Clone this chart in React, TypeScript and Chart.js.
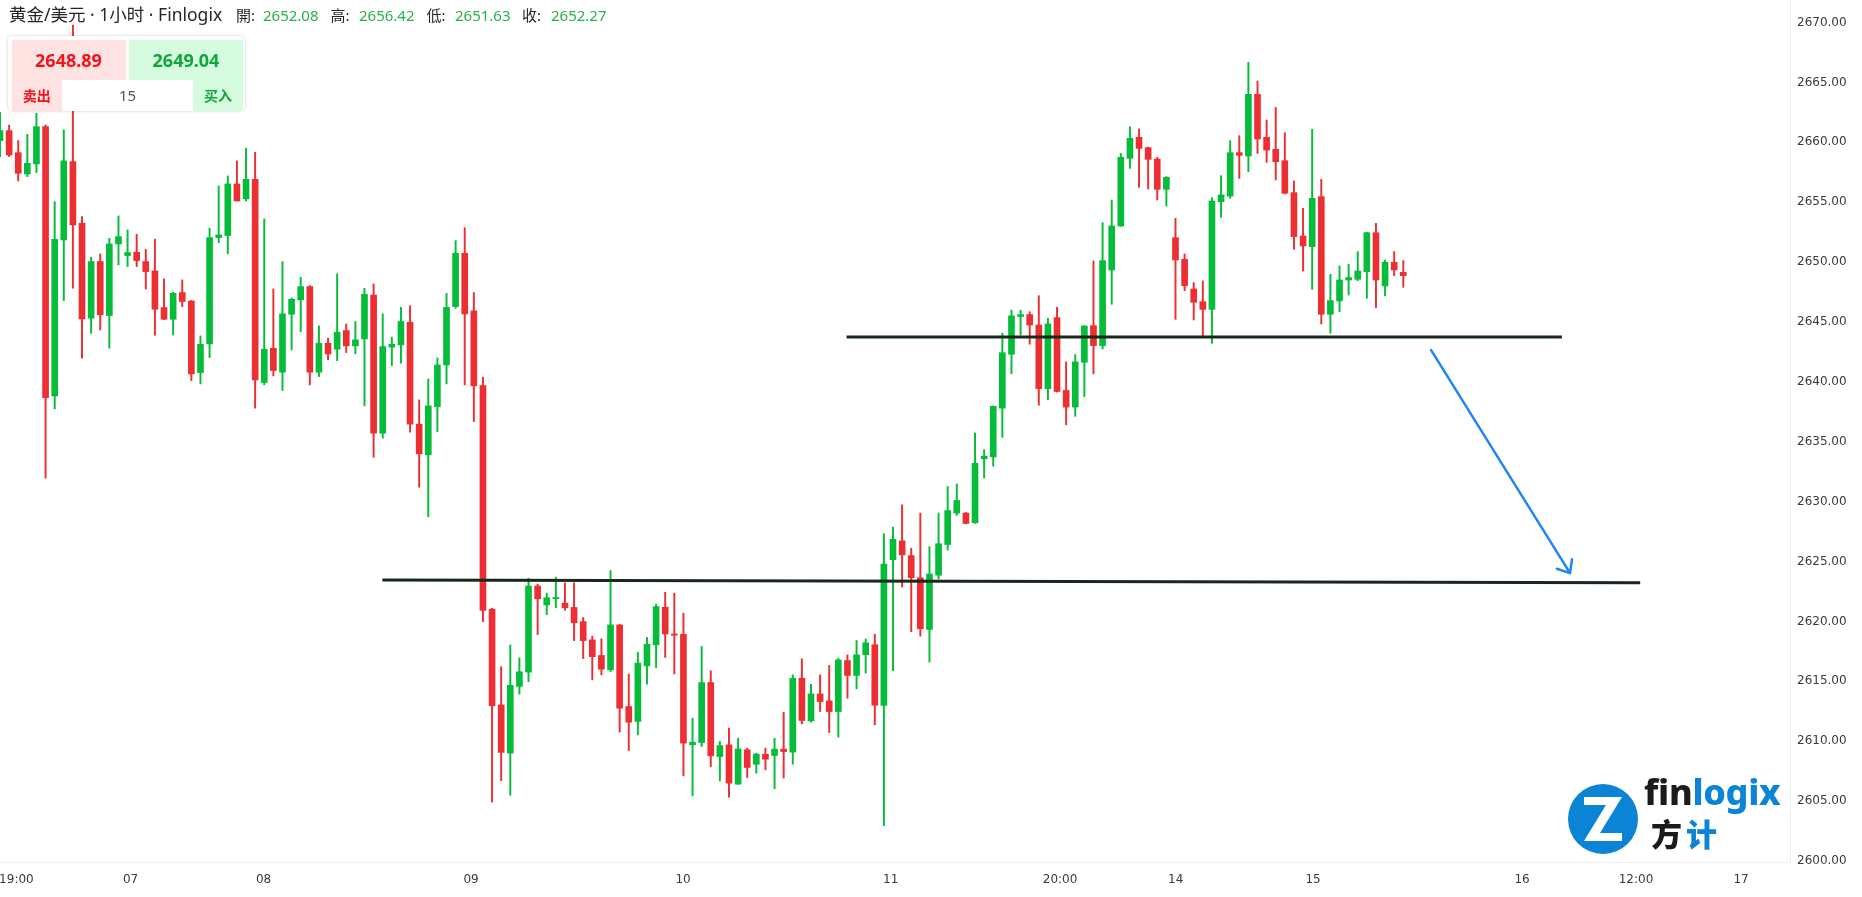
import React, { useEffect, useRef } from "react";
import { Chart, registerables } from "chart.js";

Chart.register(...registerables);

// ---- candle data (hourly, XAU/USD) ----
const opens = [
  2660.15, 2660.98, 2659.14, 2657.36, 2658.2, 2661.31, 2638.83, 2651.85, 2658.39, 2653.25,
  2645.32, 2650.05, 2645.54, 2651.52, 2650.55, 2650.82, 2650.05, 2649.27, 2646.21, 2645.23,
  2647.46, 2646.76, 2640.78, 2643.17, 2652.05, 2652.22, 2656.53, 2655.28, 2656.92, 2639.95,
  2642.81, 2640.81, 2645.65, 2646.85, 2647.96, 2640.81, 2643.23, 2642.73, 2644.29, 2643.01,
  2643.59, 2647.26, 2635.72, 2642.9, 2643.09, 2644.98, 2636.47, 2633.91, 2637.94, 2641.42,
  2646.29, 2650.74, 2645.93, 2639.69, 2621.02, 2613.03, 2609.01, 2614.58, 2615.77, 2622.96,
  2621.38, 2621.9, 2621.53, 2621.17, 2619.98, 2618.46, 2617.16, 2615.96, 2619.71, 2612.9,
  2611.65, 2616.29, 2618.05, 2621.19, 2618.96, 2618.93, 2609.7, 2609.89, 2614.9, 2608.72,
  2609.7, 2606.42, 2609.28, 2608.08, 2608.92, 2608.81, 2609.34, 2609.09, 2615.26, 2611.7,
  2613.95, 2613.37, 2612.48, 2616.74, 2615.49, 2617.23, 2618.06, 2613.0, 2625.16, 2626.73,
  2625.5, 2623.65, 2619.33, 2623.86, 2626.42, 2629.05, 2629.05, 2628.24, 2633.58, 2633.74,
  2637.81, 2642.31, 2645.46, 2645.62, 2644.75, 2639.44, 2645.37, 2639.29, 2637.9, 2641.64,
  2644.7, 2643.03, 2649.35, 2653.02, 2658.67, 2660.42, 2659.56, 2658.61, 2656.08, 2652.04,
  2650.24, 2647.76, 2646.7, 2646.06, 2655.05, 2655.52, 2659.14, 2658.86, 2664.01, 2660.42,
  2659.42, 2658.47, 2655.8, 2652.18, 2651.29, 2655.47, 2645.65, 2646.76, 2648.51, 2648.57,
  2649.21, 2652.46, 2648.01, 2649.99, 2649.15,
];
const highs = [
  2662.5, 2661.45, 2660.15, 2660.67, 2662.43, 2661.45, 2655.05, 2661.04, 2669.8, 2653.8,
  2650.41, 2650.69, 2651.99, 2653.86, 2652.69, 2652.33, 2651.07, 2651.91, 2648.6, 2647.5,
  2648.52, 2646.8, 2643.84, 2652.83, 2656.36, 2657.2, 2658.45, 2659.5, 2659.17, 2653.61,
  2647.76, 2650.05, 2647.0, 2648.74, 2648.04, 2644.68, 2643.65, 2649.02, 2644.84, 2645.04,
  2647.82, 2648.18, 2645.68, 2643.73, 2646.23, 2646.37, 2638.5, 2640.25, 2642.01, 2647.4,
  2651.8, 2652.88, 2647.46, 2640.4, 2621.1, 2616.22, 2618.04, 2616.97, 2623.61, 2623.11,
  2622.36, 2623.7, 2623.23, 2623.23, 2620.33, 2618.78, 2618.55, 2624.25, 2619.75, 2615.6,
  2617.43, 2618.66, 2621.44, 2622.44, 2622.36, 2620.69, 2611.92, 2617.91, 2615.88, 2609.98,
  2611.09, 2610.25, 2609.42, 2609.0, 2609.42, 2610.25, 2612.42, 2615.54, 2616.88, 2614.76,
  2615.54, 2616.32, 2616.93, 2617.21, 2618.41, 2618.53, 2618.93, 2627.32, 2627.87, 2629.73,
  2626.12, 2629.05, 2626.24, 2629.05, 2631.27, 2631.48, 2629.1, 2635.74, 2634.35, 2638.0,
  2644.07, 2645.99, 2645.99, 2645.86, 2647.2, 2645.31, 2646.23, 2641.67, 2642.28, 2644.7,
  2650.1, 2653.3, 2655.19, 2659.08, 2661.31, 2661.12, 2659.6, 2658.75, 2657.14, 2653.66,
  2650.68, 2648.29, 2648.43, 2655.38, 2657.22, 2660.14, 2660.56, 2666.68, 2665.12, 2661.87,
  2662.92, 2660.81, 2656.78, 2654.49, 2661.09, 2656.91, 2648.98, 2649.68, 2649.82, 2650.88,
  2652.5, 2653.24, 2650.18, 2650.88, 2650.13,
];
const lows = [
  2658.8, 2658.81, 2656.78, 2657.14, 2657.47, 2631.96, 2637.75, 2646.79, 2647.82, 2641.98,
  2644.06, 2644.34, 2642.81, 2649.77, 2649.63, 2649.63, 2647.76, 2643.9, 2645.2, 2643.92,
  2646.29, 2640.11, 2639.83, 2642.03, 2651.63, 2650.69, 2655.1, 2655.11, 2637.8, 2639.75,
  2640.5, 2639.28, 2642.67, 2644.2, 2639.75, 2640.45, 2641.84, 2641.78, 2642.45, 2642.34,
  2638.0, 2633.71, 2635.3, 2641.36, 2641.56, 2635.8, 2631.21, 2628.74, 2635.86, 2639.83,
  2646.15, 2639.75, 2636.69, 2619.98, 2604.92, 2606.71, 2605.49, 2613.93, 2614.97, 2618.9,
  2620.57, 2621.14, 2620.93, 2618.4, 2616.91, 2615.12, 2615.54, 2615.82, 2610.76, 2609.22,
  2610.53, 2614.76, 2616.15, 2617.0, 2615.62, 2607.11, 2605.44, 2609.56, 2607.89, 2606.69,
  2605.33, 2606.4, 2606.97, 2607.33, 2607.61, 2606.03, 2606.92, 2608.08, 2611.45, 2611.59,
  2612.48, 2610.73, 2610.34, 2613.59, 2614.37, 2615.69, 2611.37, 2602.94, 2615.9, 2622.88,
  2619.14, 2618.77, 2616.61, 2623.55, 2625.96, 2628.86, 2628.15, 2628.2, 2631.98, 2632.97,
  2635.37, 2640.68, 2643.92, 2643.15, 2638.06, 2638.52, 2639.15, 2636.42, 2637.13, 2638.77,
  2640.67, 2642.75, 2646.48, 2653.0, 2657.83, 2656.25, 2656.11, 2655.19, 2654.69, 2645.23,
  2647.62, 2645.17, 2643.84, 2643.22, 2653.74, 2655.33, 2656.99, 2657.55, 2659.08, 2658.33,
  2656.86, 2655.7, 2651.07, 2649.26, 2647.73, 2644.84, 2644.06, 2645.87, 2647.26, 2648.46,
  2646.98, 2646.2, 2647.18, 2648.87, 2647.9,
];
const closes = [
  2660.98, 2658.95, 2657.42, 2658.25, 2661.31, 2638.69, 2651.91, 2658.45, 2653.11, 2645.26,
  2650.05, 2645.6, 2651.52, 2652.13, 2650.8, 2650.13, 2649.21, 2646.07, 2645.23, 2647.4,
  2646.71, 2640.67, 2643.14, 2652.05, 2652.27, 2656.53, 2655.11, 2656.92, 2640.17, 2642.73,
  2640.95, 2645.68, 2646.9, 2647.96, 2640.81, 2643.23, 2642.34, 2644.15, 2643.01, 2643.51,
  2647.32, 2635.72, 2642.95, 2643.14, 2645.04, 2636.47, 2634.0, 2638.0, 2641.42, 2646.23,
  2650.74, 2645.68, 2639.67, 2620.93, 2612.97, 2609.07, 2614.67, 2615.8, 2622.96, 2621.89,
  2621.98, 2622.0, 2621.14, 2619.89, 2618.4, 2617.06, 2616.01, 2619.71, 2612.76, 2611.59,
  2616.52, 2618.1, 2621.24, 2618.96, 2618.85, 2609.84, 2609.92, 2614.9, 2608.78, 2609.64,
  2606.5, 2609.36, 2607.81, 2608.92, 2608.5, 2609.34, 2609.14, 2615.26, 2611.73, 2613.95,
  2613.31, 2612.48, 2616.79, 2615.49, 2617.21, 2618.22, 2613.0, 2624.79, 2626.86, 2625.56,
  2623.65, 2619.39, 2623.96, 2626.49, 2629.26, 2630.1, 2628.18, 2633.21, 2633.8, 2637.96,
  2642.44, 2645.52, 2645.62, 2644.75, 2639.44, 2644.84, 2639.2, 2637.9, 2641.67, 2644.67,
  2643.03, 2650.13, 2653.02, 2658.75, 2660.34, 2659.5, 2658.58, 2656.08, 2657.08, 2650.18,
  2648.04, 2646.65, 2646.06, 2655.11, 2655.61, 2659.14, 2658.92, 2664.01, 2660.28, 2659.36,
  2658.39, 2655.75, 2652.13, 2651.35, 2655.33, 2645.65, 2646.79, 2648.51, 2648.71, 2649.26,
  2652.46, 2648.51, 2649.99, 2649.35, 2648.87,
];

// ---- axis ticks ----
const xTickPositions = [1.8, 14.33, 28.93, 51.69, 74.96, 97.74, 116.33, 129.02, 144.1, 167.03, 179.54, 191.07];
const xTickLabels = ["19:00", "07", "08", "09", "10", "11", "20:00", "14", "15", "16", "12:00", "17"];
const yTickValues = [2600, 2605, 2610, 2615, 2620, 2625, 2630, 2635, 2640, 2645, 2650, 2655, 2660, 2665, 2670];

// ---- drawn levels (bar index, price) ----
const upperLevel = { fromIndex: 92.9, toIndex: 171.4, fromPrice: 2643.76, toPrice: 2643.76 };
const lowerLevel = { fromIndex: 41.96, toIndex: 180.0, fromPrice: 2623.47, toPrice: 2623.24 };
const arrowLeg = { fromIndex: 157.05, toIndex: 172.3, fromPrice: 2642.65, toPrice: 2624.03 };

// ---- header quote ----
const symbolTitle = "黄金/美元 · 1小时 · Finlogix";
const ohlcLabels = ["開:", "高:", "低:", "收:"];
const ohlcValues = ["2652.08", "2656.42", "2651.63", "2652.27"];
const sellPrice = "2648.89";
const buyPrice = "2649.04";
const lotSize = "15";

const UP = "#05bd3b";
const DOWN = "#ec2f32";

const levelsPlugin = {
  id: "levels",
  afterDatasetsDraw(chart: any) {
    const { ctx } = chart;
    const xs = chart.scales.x;
    const ys = chart.scales.y;
    ctx.save();
    ctx.lineCap = "butt";
    ctx.strokeStyle = "#1a281c";
    ctx.lineWidth = 3;
    for (const l of [upperLevel, lowerLevel]) {
      ctx.beginPath();
      ctx.moveTo(xs.getPixelForValue(l.fromIndex), ys.getPixelForValue(l.fromPrice));
      ctx.lineTo(xs.getPixelForValue(l.toIndex), ys.getPixelForValue(l.toPrice));
      ctx.stroke();
    }
    const x1 = xs.getPixelForValue(arrowLeg.fromIndex);
    const y1 = ys.getPixelForValue(arrowLeg.fromPrice);
    const x2 = xs.getPixelForValue(arrowLeg.toIndex);
    const y2 = ys.getPixelForValue(arrowLeg.toPrice);
    ctx.strokeStyle = "#1f87f3";
    ctx.lineWidth = 2.5;
    ctx.lineCap = "round";
    ctx.beginPath();
    ctx.moveTo(x1, y1);
    ctx.lineTo(x2, y2);
    const ang = Math.atan2(y2 - y1, x2 - x1);
    const len = 14;
    for (const d of [Math.PI * 0.78, -Math.PI * 0.78]) {
      ctx.moveTo(x2, y2);
      ctx.lineTo(x2 + len * Math.cos(ang + d), y2 + len * Math.sin(ang + d));
    }
    ctx.stroke();
    ctx.restore();
  },
};

function CandleChart() {
  const ref = useRef<HTMLCanvasElement | null>(null);
  useEffect(() => {
    const canvas = ref.current;
    if (!canvas) return;
    const colors = opens.map((o, i) => (closes[i] >= o ? UP : DOWN));
    const wickData = opens.map((_, i) => ({ x: i, y: [lows[i], highs[i]] }));
    const bodyData = opens.map((o, i) => ({ x: i, y: [o, closes[i]] }));
    const axisFont = { family: "'DejaVu Sans', sans-serif", size: 12 };
    const chart = new Chart(canvas, {
      type: "bar",
      data: {
        datasets: [
          { data: wickData as any, backgroundColor: colors, barThickness: 1.3, grouped: false, order: 2 } as any,
          { data: bodyData as any, backgroundColor: colors, barThickness: 6, minBarLength: 1, grouped: false, order: 1 } as any,
        ],
      },
      options: {
        animation: false,
        responsive: false,
        devicePixelRatio: 1,
        layout: { padding: 0 },
        plugins: { legend: { display: false }, tooltip: { enabled: false } },
        scales: {
          x: {
            type: "linear",
            min: 0,
            max: 196.4,
            offset: false,
            grid: { display: false, drawTicks: false, offset: false },
            border: { display: true, color: "#eeeeee" },
            afterBuildTicks: (s: any) => {
              s.ticks = xTickPositions.map((v) => ({ value: v }));
            },
            afterFit: (s: any) => {
              s.height = 35;
              s.paddingLeft = 0;
              s.paddingRight = 0;
            },
            ticks: {
              autoSkip: false,
              maxRotation: 0,
              padding: 11,
              color: "#3a3a3a",
              font: axisFont,
              callback: (_v: any, i: number) => xTickLabels[i],
            },
          },
          y: {
            type: "linear",
            position: "right",
            min: 2599.92,
            max: 2671.89,
            grid: { display: false, drawTicks: false },
            border: { display: true, color: "#eeeeee" },
            afterBuildTicks: (s: any) => {
              s.ticks = yTickValues.map((v) => ({ value: v }));
            },
            afterFit: (s: any) => {
              s.width = 72;
              s.paddingTop = 0;
              s.paddingBottom = 0;
            },
            ticks: {
              padding: 7,
              color: "#3a3a3a",
              font: axisFont,
              callback: (v: any) => Number(v).toFixed(2),
            },
          },
        },
      } as any,
      plugins: [levelsPlugin],
    });
    // calibrate the value ranges to the final plot area
    const a = chart.chartArea;
    const pxPerBar = 1403.3 / 154;
    const pxPerUnit = (861 - 22.6) / 70;
    const o: any = chart.options.scales;
    o.x.min = a.left / pxPerBar;
    o.x.max = a.right / pxPerBar;
    o.y.max = 2670 + (22.6 - a.top) / pxPerUnit;
    o.y.min = 2600 - (a.bottom - 861) / pxPerUnit;
    chart.update();
    return () => chart.destroy();
  }, []);
  return <canvas ref={ref} width={1862} height={897} style={{ display: "block", width: 1862, height: 897 }} />;
}

const sans = "'Noto Sans', 'Noto Sans CJK SC', sans-serif";

function Header() {
  const lblLeft = [236, 330.6, 426.5, 522];
  const valLeft = [263, 359, 455, 551];
  const base: React.CSSProperties = { position: "absolute", top: 4, fontSize: 15, lineHeight: "22px", fontFamily: sans, whiteSpace: "nowrap" };
  return (
    <>
      <div style={{ ...base, left: 9, top: 3, fontSize: 17.5, color: "#262626" }}>{symbolTitle}</div>
      {ohlcLabels.map((l, i) => (
        <React.Fragment key={l}>
          <div style={{ ...base, left: lblLeft[i], color: "#262626" }}>{l}</div>
          <div style={{ ...base, left: valLeft[i], color: "#27b24b" }}>{ohlcValues[i]}</div>
        </React.Fragment>
      ))}
    </>
  );
}

function QuoteBox() {
  const cell: React.CSSProperties = { position: "absolute", display: "flex", alignItems: "center", justifyContent: "center", fontFamily: sans };
  return (
    <div style={{ position: "absolute", left: 8, top: 36, width: 237, height: 75, background: "#fff", borderRadius: 5, boxShadow: "0 0 3px rgba(0,0,0,0.22)" }}>
      <div style={{ ...cell, left: 3.5, top: 3.5, width: 114, height: 71, background: "#ffe3e3" }} />
      <div style={{ ...cell, left: 121, top: 3.5, width: 114, height: 71, background: "#d5fcdf" }} />
      <div style={{ ...cell, left: 54, top: 44, width: 131, height: 30.5, background: "#ffffff", color: "#555", fontSize: 15 }}>{lotSize}</div>
      <div style={{ ...cell, left: 3.5, top: 3.5, width: 114, height: 40, color: "#f4121c", fontWeight: 700, fontSize: 18 }}>{sellPrice}</div>
      <div style={{ ...cell, left: 121, top: 3.5, width: 114, height: 40, color: "#12a63a", fontWeight: 700, fontSize: 18 }}>{buyPrice}</div>
      <div style={{ ...cell, left: 3.5, top: 44, width: 50.5, height: 30.5, color: "#f4121c", fontWeight: 700, fontSize: 14 }}>卖出</div>
      <div style={{ ...cell, left: 185, top: 44, width: 50, height: 30.5, color: "#12a63a", fontWeight: 700, fontSize: 14 }}>买入</div>
    </div>
  );
}

function Logo() {
  return (
    <>
      <svg style={{ position: "absolute", left: 1567, top: 783 }} width={72} height={72} viewBox="-36 -36 72 72">
        <circle r={35} fill="#0b84d6" />
        <path d="M-19,-22 H19 L-3,14 H19 L19,22 H-19 L3,-14 H-19 Z" fill="#fff" />
      </svg>
      <div style={{ position: "absolute", left: 1644, top: 768, fontFamily: sans, fontWeight: 800, fontSize: 36, lineHeight: "48px", letterSpacing: -0.3, whiteSpace: "nowrap" }}>
        <span style={{ color: "#1b1b1b" }}>fin</span>
        <span style={{ color: "#0b84d6" }}>logix</span>
      </div>
      <div style={{ position: "absolute", left: 1651, top: 812, fontFamily: "'Noto Sans CJK SC', sans-serif", fontWeight: 900, fontSize: 31, lineHeight: "42px", letterSpacing: 4, whiteSpace: "nowrap" }}>
        <span style={{ color: "#1b1b1b" }}>方</span>
        <span style={{ color: "#0b84d6" }}>计</span>
      </div>
    </>
  );
}

export default function App() {
  return (
    <div style={{ position: "absolute", left: 0, top: 0, width: 1862, height: 897, background: "#fff", overflow: "hidden" }}>
      <CandleChart />
      <Header />
      <QuoteBox />
      <Logo />
    </div>
  );
}
